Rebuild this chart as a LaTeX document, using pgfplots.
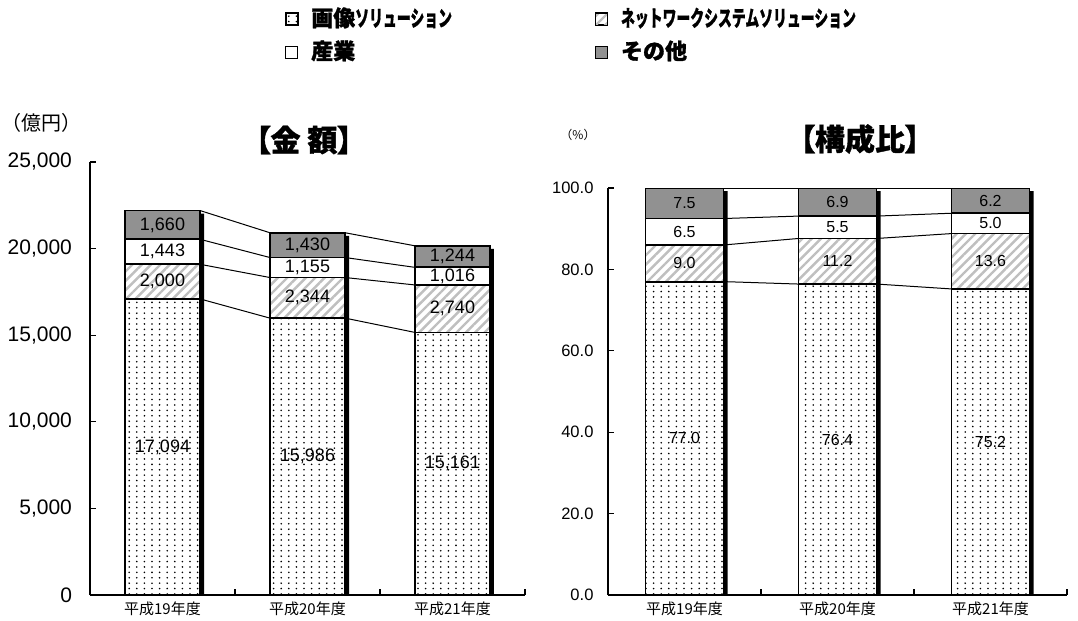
\documentclass[border=0pt]{standalone}
\usepackage{pgfplots}
\pgfplotsset{compat=1.18}
\usepackage{fontspec}
\usepackage{graphicx}
\setmainfont{Liberation Sans}
\newfontfamily\cjk[BoldFeatures={FakeBold=1.2}]{Noto Sans CJK JP}
\newfontfamily\cjkp[RawFeature=+palt, BoldFeatures={FakeBold=1.2}]{Noto Sans CJK JP}
\usetikzlibrary{patterns,patterns.meta}
\definecolor{othergray}{RGB}{145,145,145}
\pgfdeclarepatternformonly{sparsedots}{\pgfqpoint{-0.6pt}{-0.6pt}}{\pgfqpoint{0.6pt}{0.6pt}}{\pgfqpoint{3.8pt}{2.7pt}}{%
  \pgfpathcircle{\pgfqpoint{0pt}{0pt}}{0.45pt}\pgfusepath{fill}}

\pgfplotsset{
  sqlegend/.style={legend image code/.code={\draw[##1,line width=0.5pt] (0pt,-3pt) rectangle (6pt,3pt);}},
  imgsty/.style={draw=black, line width=0.9pt, preaction={fill=white}, pattern=sparsedots, pattern color=black, sqlegend},
  netsty/.style={draw=black, line width=0.9pt, preaction={fill=white}, pattern={Lines[angle=45,distance=3.3pt,line width=1.2pt]}, pattern color=gray!50, sqlegend},
  indsty/.style={draw=black, line width=0.9pt, fill=white, sqlegend},
  othsty/.style={draw=black, line width=0.9pt, fill=othergray, sqlegend},
  base/.style={scale only axis, xmin=-0.5, xmax=2.5, ymin=0, anchor=south west},
  frame/.style={axis x line*=bottom, axis y line*=left, axis line style={-, line width=0.6pt},
    tick align=inside, major tick length=3pt, tick style={black, line width=0.6pt},
    scaled y ticks=false,
    xtick={0.5,1.5,2.5}, xticklabels={},
    extra x ticks={0,1,2}, extra x tick labels={平成19年度,平成20年度,平成21年度},
    extra x tick style={major tick length=0pt},
    xticklabel style={font=\cjk\fontsize{7.5}{9}\selectfont},
  },
  lbl/.style={draw=none, mark=none, nodes near coords, point meta=explicit symbolic,
    every node near coord/.append style={anchor=center, inner sep=0pt, font=\fontsize{#1}{#1}\selectfont}},
}

\begin{document}
\begin{tikzpicture}
\useasboundingbox (0pt,0pt) rectangle (539pt,-310.5pt);

% ===== Left: amounts =====
\begin{axis}[base, frame, at={(45pt,-297.5pt)}, width=217.5pt, height=216.5pt, ymax=25000,
  ybar stacked, bar width=37.5pt,
  ytick={0,5000,...,25000},
  yticklabel style={font=\fontsize{10.5}{12}\selectfont, /pgf/number format/1000 sep={,}, /pgf/number format/assume math mode=true, xshift=-5.5pt},
  legend columns=2, legend cell align=left,
  legend style={at={(axis description cs:0.448,1.356)}, anchor=north west, draw=none, fill=none,
    inner sep=0pt, column sep=6.5pt, row sep=5.5pt,
    nodes={inner sep=0pt, text height=9pt, text depth=2pt, font=\cjk\bfseries\fontsize{11}{12}\selectfont},
    /tikz/column 2/.style={column sep=71.5pt}},
]
\addplot[imgsty] coordinates {(0,17094) (1,15986) (2,15161)};
\addlegendentry{画像\scalebox{0.63}[1]{ソリューション}}
\addplot[netsty] coordinates {(0,2000) (1,2344) (2,2740)};
\addlegendentry{\scalebox{0.63}[1]{ネットワークシステムソリューション}}
\addplot[indsty] coordinates {(0,1443) (1,1155) (2,1016)};
\addlegendentry{産業}
\addplot[othsty] coordinates {(0,1660) (1,1430) (2,1244)};
\addlegendentry{その他}
\end{axis}

\begin{axis}[base, at={(45pt,-297.5pt)}, width=217.5pt, height=216.5pt, ymax=25000, axis lines=none, unbounded coords=jump]
\addplot[ybar, fill=black, draw=none, bar width=2pt, bar shift=19.75pt, yshift=-1.5pt] coordinates {(0,22197) (1,20915) (2,20161)};
\addplot[black, line width=0.5pt, mark=none] coordinates {(0.259,17094) (0.741,15986) (1,nan) (1.259,15986) (1.741,15161)};
\addplot[black, line width=0.5pt, mark=none] coordinates {(0.259,19094) (0.741,18330) (1,nan) (1.259,18330) (1.741,17901)};
\addplot[black, line width=0.5pt, mark=none] coordinates {(0.259,20537) (0.741,19485) (1,nan) (1.259,19485) (1.741,18917)};
\addplot[black, line width=0.5pt, mark=none] coordinates {(0.259,22197) (0.741,20915) (1,nan) (1.259,20915) (1.741,20161)};
\addplot[lbl=9] table[meta=lab, row sep=\\] {
x y lab \\
0 8547 17,094 \\ 1 7993 15,986 \\ 2 7580.5 15,161 \\
0 18094 2,000 \\ 1 17158 2,344 \\ 2 16531 2,740 \\
0 19815.5 1,443 \\ 1 18907.5 1,155 \\ 2 18409 1,016 \\
0 21367 1,660 \\ 1 20200 1,430 \\ 2 19539 1,244 \\
};
\end{axis}

% ===== Right: shares =====
\begin{axis}[base, frame, at={(304pt,-297.5pt)}, width=229.5pt, height=203.5pt, ymax=100,
  ybar stacked, bar width=39pt,
  ytick={0,20,...,100},
  yticklabel style={font=\fontsize{8.25}{10}\selectfont, /pgf/number format/fixed, /pgf/number format/fixed zerofill, /pgf/number format/precision=1, /pgf/number format/assume math mode=true, xshift=-3.75pt},
]
\addplot[imgsty] coordinates {(0,77.0) (1,76.4) (2,75.2)};
\addplot[netsty] coordinates {(0,9.0) (1,11.2) (2,13.6)};
\addplot[indsty] coordinates {(0,6.5) (1,5.5) (2,5.0)};
\addplot[othsty] coordinates {(0,7.5) (1,6.9) (2,6.2)};
\end{axis}

\begin{axis}[base, at={(304pt,-297.5pt)}, width=229.5pt, height=203.5pt, ymax=100, axis lines=none, unbounded coords=jump]
\addplot[ybar, fill=black, draw=none, bar width=2pt, bar shift=20.5pt, yshift=-1.5pt] coordinates {(0,100) (1,100) (2,100)};
\addplot[black, line width=0.5pt, mark=none] coordinates {(0.255,77.0) (0.745,76.4) (1,nan) (1.255,76.4) (1.745,75.2)};
\addplot[black, line width=0.5pt, mark=none] coordinates {(0.255,86.0) (0.745,87.6) (1,nan) (1.255,87.6) (1.745,88.8)};
\addplot[black, line width=0.5pt, mark=none] coordinates {(0.255,92.5) (0.745,93.1) (1,nan) (1.255,93.1) (1.745,93.8)};
\addplot[black, line width=0.5pt, mark=none] coordinates {(0.255,100) (0.745,100) (1,nan) (1.255,100) (1.745,100)};
\addplot[lbl=8] table[meta=lab, row sep=\\] {
x y lab \\
0 38.5 77.0 \\ 1 38.2 76.4 \\ 2 37.6 75.2 \\
0 81.5 9.0 \\ 1 82.0 11.2 \\ 2 82.0 13.6 \\
0 89.25 6.5 \\ 1 90.35 5.5 \\ 2 91.3 5.0 \\
0 96.25 7.5 \\ 1 96.55 6.9 \\ 2 96.9 6.2 \\
};
\end{axis}

% titles and units
\node[font=\cjkp\bfseries\fontsize{15}{16}\selectfont] at (152pt,-70pt) {【金 額】};
\node[font=\cjkp\bfseries\fontsize{15}{16}\selectfont] at (430pt,-69.5pt) {【構成比】};
\node[font=\cjk\fontsize{10}{11}\selectfont] at (21pt,-61.5pt) {（億円）};
\node[font=\cjk\fontsize{6}{7}\selectfont] at (289pt,-67.5pt) {（\%）};
\end{tikzpicture}
\end{document}
